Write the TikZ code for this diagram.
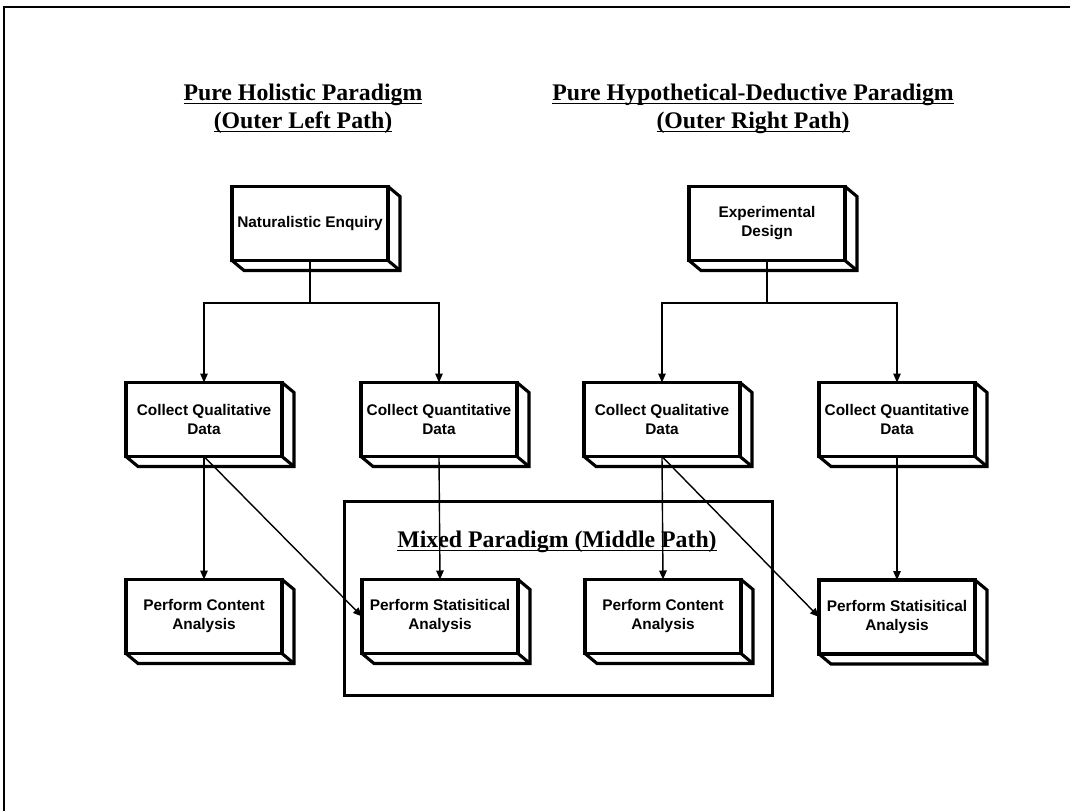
\documentclass[tikz,border=0pt]{standalone}
\usepackage{fontspec}
\setmainfont{Liberation Serif}
\newfontfamily\boxfont{Liberation Sans}
\usetikzlibrary{arrows.meta,calc}

% underlined heading text: a rule set a little below the baseline
\newcommand\headline[1]{\setbox0\hbox{#1}%
  \rlap{\vrule height -2.6pt depth 4.4pt width \wd0}\box0}

\tikzset{
  stage/.style={draw, line width=3.1pt, fill=white, minimum width=156pt,
    minimum height=74pt, inner sep=0pt, outer sep=0pt, align=center,
    font=\boxfont\bfseries\fontsize{15.4}{19}\selectfont},
  face/.style={line width=3.1pt, line join=miter},
  link/.style={line width=1.4pt},
  arrowlink/.style={link, -{Triangle[length=9pt,width=7.5pt]}},
  heading/.style={font=\bfseries\fontsize{23.8}{28}\selectfont, anchor=base,
    inner sep=0pt},
  frameline/.style={line width=2pt},
}

% bottom and right faces that give each stage box its depth
\newcommand\slab[1]{%
  \draw[face] (#1.south west) -- ++(12,10) -- ($(#1.south east)+(12,10)$)
    -- ($(#1.north east)+(12,10)$) -- (#1.north east);
  \draw[face] (#1.south east) -- ++(12,10);
}

\begin{document}
\begin{tikzpicture}[x=1pt,y=-1pt]
\useasboundingbox (0,0) rectangle (1070,811);

% page frame (top and left edges)
\coordinate (ftr) at (1070,7);
\coordinate (ftl) at (4,7);
\coordinate (fbl) at (4,811);
\draw[frameline] (ftr) -- (ftl) -- (fbl);

% headings
\node[heading] (hl1) at (303,100) {\headline{Pure Holistic Paradigm}};
\node[heading] (hl2) at (303,128) {\headline{(Outer Left Path)}};
\node[heading] (hr1) at (753,100) {\headline{Pure Hypothetical-Deductive Paradigm}};
\node[heading] (hr2) at (753,128) {\headline{(Outer Right Path)}};

% mixed paradigm region
\node[draw, line width=3pt, minimum width=428pt, minimum height=194pt,
  inner sep=0pt, outer sep=0pt] (mixed) at (558,598.5) {};
\node[heading] (hm) at (557,547) {\headline{Mixed Paradigm (Middle Path)}};

% branch points below the design boxes
\coordinate (bl) at (310,303);
\coordinate (br) at (767,303);

% stage boxes
\node[stage] (ne)  at (310,223.5) {Naturalistic Enquiry};
\node[stage] (ed)  at (767,223.5) {Experimental\\Design};
\node[stage] (cq1) at (204,419.5) {Collect Qualitative\\Data};
\node[stage] (cn1) at (439,419.5) {Collect Quantitative\\Data};
\node[stage] (cq2) at (662,419.5) {Collect Qualitative\\Data};
\node[stage] (cn2) at (897,419.5) {Collect Quantitative\\Data};
\node[stage] (pc1) at (204,616.5) {Perform Content\\Analysis};
\node[stage] (ps1) at (440,616.5) {Perform Statisitical\\Analysis};
\node[stage] (pc2) at (663,616.5) {Perform Content\\Analysis};
\node[stage] (ps2) at (897,617)   {Perform Statisitical\\Analysis};

\foreach \n in {ne,ed,cq1,cn1,cq2,cn2,pc1,ps1,pc2,ps2} {\slab{\n}}

% connectors
\draw[link] (ne.south) -- (bl);
\draw[arrowlink] (bl) -| (cq1.north);
\draw[arrowlink] (bl) -| (cn1.north);
\draw[link] (ed.south) -- (br);
\draw[arrowlink] (br) -| (cq2.north);
\draw[arrowlink] (br) -| (cn2.north);

\draw[arrowlink] (cq1.south) -- (pc1.north);
\draw[arrowlink] (cq1.south) -- (ps1.west);
\draw[arrowlink] (cn1.south) -- (ps1.north);
\draw[arrowlink] (cq2.south) -- (pc2.north);
\draw[arrowlink] (cq2.south) -- (ps2.west);
\draw[arrowlink] (cn2.south) -- (ps2.north);
\end{tikzpicture}
\end{document}
